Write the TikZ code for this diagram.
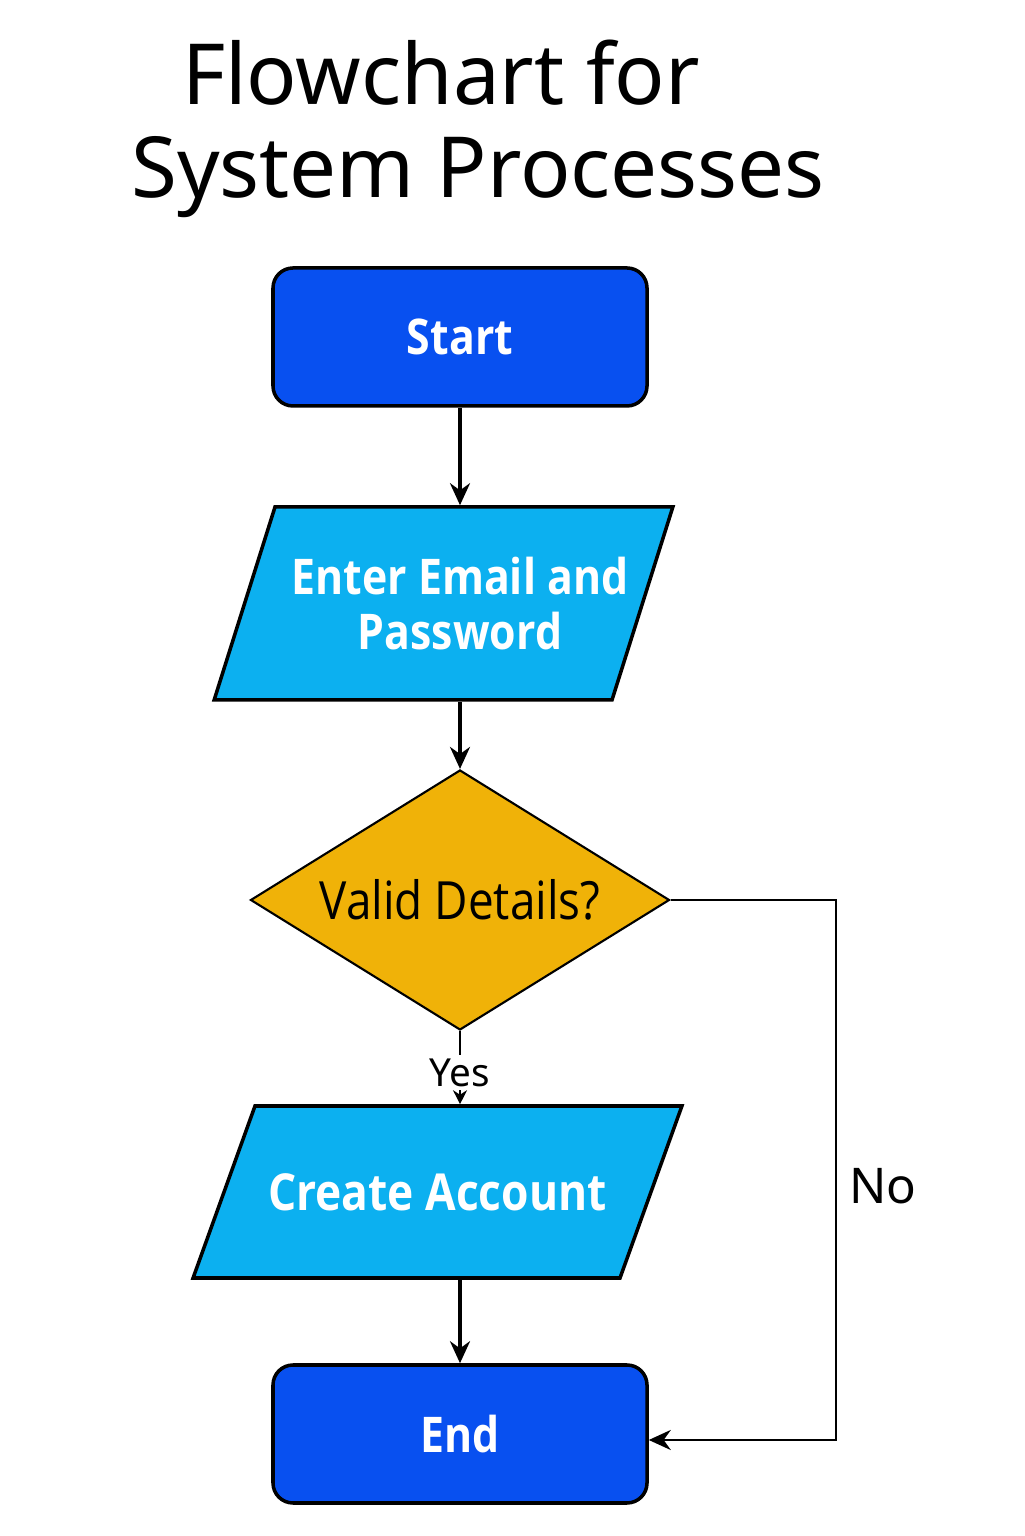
\documentclass[tikz,border=0pt]{standalone}
\usepackage{fontspec}
\setmainfont{Noto Sans}
\newfontfamily\boxfont[FakeStretch=0.87]{Open Sans}
\newfontfamily\titlefont[FakeStretch=0.99]{Noto Sans}
\usetikzlibrary{shapes.geometric, arrows.meta, positioning}
\definecolor{termblue}{RGB}{8,80,240}
\definecolor{iocyan}{RGB}{12,176,240}
\definecolor{decamber}{RGB}{240,178,8}

\begin{document}
\begin{tikzpicture}[-,thick,
    term node/.style={draw=black,line width=1pt,fill=termblue,rounded corners=0.2cm,
                      minimum width=3.74cm,minimum height=1.38cm,text=white,
                      font=\boxfont\fontsize{14}{16}\selectfont\bfseries},
    io node/.style={trapezium,draw=black,line width=1pt,fill=iocyan},
    io text/.style={text=white,align=center,font=\boxfont\fontsize{14}{15.6}\selectfont\bfseries},
    dec node/.style={diamond,aspect=1.6,draw=black,line width=0.6pt,fill=decamber,inner sep=0pt,
                     minimum width=4.19cm,minimum height=2.6cm,
                     font=\boxfont\fontsize{15}{18}\selectfont},
    main arrow/.style={-{Stealth[length=2.2mm,width=2mm]},line width=1pt}]

\useasboundingbox (0,0) rectangle (10.24,15.36);

% title
\node[font=\titlefont\fontsize{24}{28}\selectfont,anchor=base] (TitleTop) at (4.41,14.31) {Flowchart for};
\node[font=\titlefont\fontsize{24}{28}\selectfont,anchor=base] (TitleBottom) at (4.78,13.38) {System Processes};

% boxes
\node[term node] (Start) at (4.60,11.99) {Start};
\node[io node,trapezium left angle=72.5,trapezium right angle=107.5,
      inner xsep=1.685cm,inner ysep=0.965cm,
      label={[io text,xshift=1.65mm]center:Enter Email and\\Password}] (Input) at (4.435,9.325) {};
\node[dec node] (Check) at (4.60,6.36) {Valid Details?};
\node[io node,trapezium left angle=70.2,trapezium right angle=109.8,
      inner xsep=1.825cm,inner ysep=0.86cm,
      label={[io text,font=\boxfont\fontsize{14.5}{16}\selectfont\bfseries]center:Create Account}] (Create) at (4.375,3.44) {};
\node[term node] (End) at (4.60,1.02) {End};

\coordinate (NoBend) at (8.36,6.36);
\coordinate[yshift=-0.6mm] (NoEnd) at (End.east);

% connectors
\draw[main arrow] (Start.south) -- (Start.south |- Input.north);
\draw[main arrow] (Check.north |- Input.south) -- (Check.north);
\draw[thin,-{Stealth[length=1.4mm,width=1.4mm]}] (Check.south)
      -- node[fill=white,inner sep=1pt,yshift=-0.5mm,font=\fontsize{11}{13}\selectfont] (YesLabel) {Yes} (Check.south |- Create.north);
\draw[main arrow] (Check.south |- Create.south) -- (End.north);
\draw[main arrow,line width=0.8pt] (Check.east) -| (NoBend |- NoEnd)
      node[pos=0.77,right=0cm,yshift=0.5mm,font=\fontsize{14}{17}\selectfont] (NoLabel) {No} -- (NoEnd);
\end{tikzpicture}
\end{document}
